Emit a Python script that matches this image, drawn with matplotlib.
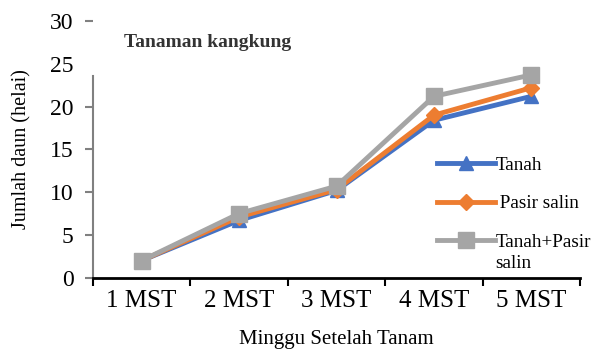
import numpy as np
import matplotlib.pyplot as plt

# Jumlah daun per minggu setelah tanam
weeks = ["1 MST", "2 MST", "3 MST", "4 MST", "5 MST"]
tanah = [2.0, 6.7, 10.2, 18.4, 21.2]
pasir_salin = [2.0, 7.1, 10.3, 19.0, 22.2]
tanah_pasir = [2.0, 7.5, 10.7, 21.2, 23.7]
labels = ["Tanah", " Pasir salin", "Tanah+Pasir\nsalin"]

plt.rcParams["font.family"] = ["Liberation Serif", "DejaVu Serif"]

fig = plt.figure(figsize=(5.92, 3.54), dpi=100)
ax = fig.add_axes([0.157, 0.2155, 0.823, 0.7252])

x = np.arange(len(weeks))
first_lines = [lab.split("\n")[0] for lab in labels]
ax.plot(x, tanah, color="#4472C4", lw=3.5, marker="^", ms=10, label=first_lines[0])
ax.plot(x, pasir_salin, color="#ED7D31", lw=3.5, marker="D", ms=8, label=first_lines[1])
ax.plot(x, tanah_pasir, color="#A5A5A5", lw=3.5, marker="s", ms=11, label=first_lines[2])

ax.set_xlim(-0.5, len(weeks) - 0.5)
ax.set_ylim(0, 30)

# x axis: category labels between tick marks
ax.set_xticks(x)
ax.set_xticklabels(weeks, fontsize=18)
ax.tick_params(axis="x", which="major", length=0, pad=9)
ax.set_xticks(np.arange(-0.5, len(weeks)), minor=True)
ax.tick_params(axis="x", which="minor", length=6, width=1.5, direction="out", color="black")

ax.set_yticks([0, 5, 10, 15, 20, 25, 30])
ax.tick_params(axis="y", labelsize=17, length=6, width=1.5, color="#808080", pad=8)
ax.yaxis.get_major_ticks()[5].tick1line.set_visible(False)

for s in ["top", "right"]:
    ax.spines[s].set_visible(False)
ax.spines["left"].set_color("#808080")
ax.spines["left"].set_linewidth(1.5)
ax.spines["left"].set_bounds(0, 23.6)
ax.spines["bottom"].set_color("black")
ax.spines["bottom"].set_linewidth(2)

ax.set_xlabel("Minggu Setelah Tanam", fontsize=15)
ax.xaxis.set_label_coords(0.5, -0.205)
ax.set_ylabel("Jumlah daun (helai)", fontsize=14.5, labelpad=13)

fig.text(0.21, 0.88, "Tanaman kangkung", fontsize=14, fontweight="bold",
         color="#333333", va="center", ha="left")

leg = ax.legend(loc="upper left", bbox_to_anchor=(0.738, 0.558), bbox_transform=fig.transFigure,
                frameon=False, fontsize=13.8, handlelength=3.05, handletextpad=0.0,
                labelspacing=1.1, borderpad=0, borderaxespad=0)

# second line of the last legend label, under its first line
fig.canvas.draw()
last = leg.get_texts()[-1]
bb = last.get_window_extent()
fig.text(bb.x0 / fig.dpi / fig.get_figwidth(), (bb.y0 - 4) / fig.dpi / fig.get_figheight(),
         labels[-1].split("\n")[1], fontsize=13.8, va="top", ha="left")

fig.savefig("out.png", dpi=100)
